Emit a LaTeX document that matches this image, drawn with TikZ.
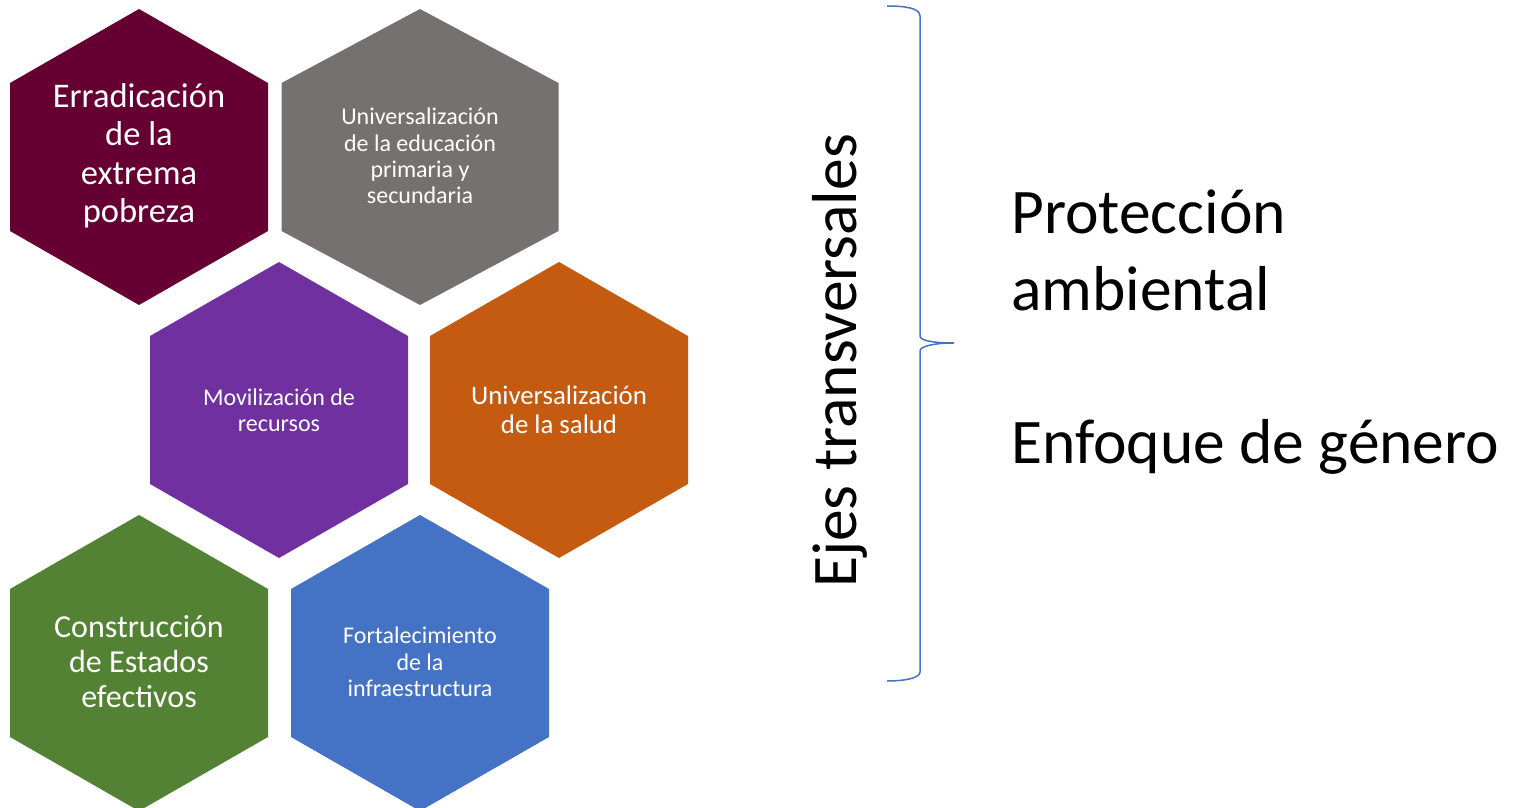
\documentclass[tikz,border=0pt]{standalone}
\usepackage{fontspec}
\setmainfont{Carlito}
\definecolor{cMaroon}{HTML}{660033}
\definecolor{cGray}{HTML}{767171}
\definecolor{cPurple}{HTML}{7030A0}
\definecolor{cOrange}{HTML}{C55A11}
\definecolor{cGreen}{HTML}{548235}
\definecolor{cBlue}{HTML}{4472C4}
\newcommand\hexfill[4]{\fill[#3] (#1,#2) +(0,-148) -- +(#4,-74) -- +(#4,74) -- +(0,148) -- +(-#4,74) -- +(-#4,-74) -- cycle;}
\begin{document}
\begin{tikzpicture}[x=1pt,y=-1pt,
  hexlabel/.style={text=white,align=center,inner sep=0pt},
  big/.style={hexlabel,font=\fontsize{34.5}{38.5}\selectfont},
  mid/.style={hexlabel,font=\fontsize{32}{35}\selectfont},
  med/.style={hexlabel,font=\fontsize{26.8}{29}\selectfont},
  small/.style={hexlabel,font=\fontsize{24}{26.3}\selectfont},
  sidetext/.style={inner sep=0pt,font=\fontsize{63.5}{72}\selectfont}]
\useasboundingbox (0,0) rectangle (1518,808);
\hexfill{139}{157}{cMaroon}{129}
\hexfill{420}{157}{cGray}{138.5}
\hexfill{279}{410}{cPurple}{129}
\hexfill{559}{410}{cOrange}{129}
\hexfill{139}{663}{cGreen}{129}
\hexfill{420}{663}{cBlue}{129}
\node[big] (h1) at (139,156) {Erradicación\\de la\\extrema\\pobreza};
\node[small] (h2) at (420,156) {Universalización\\de la educación\\primaria y\\secundaria};
\node[small] (h3) at (279,410) {Movilización de\\recursos};
\node[med] (h4) at (559,410) {Universalización\\de la salud};
\node[mid] (h5) at (139,662) {Construcción\\de Estados\\efectivos};
\node[small] (h6) at (420,662) {Fortalecimiento\\de la\\infraestructura};
\node[sidetext,rotate=90,anchor=base west] (ejes) at (856,588) {Ejes transversales};
\draw[cBlue,line width=1.5pt] (887,6) .. controls (905,6) and (920,8) .. (920,16) -- (920,336)
  .. controls (920,341) and (935,343) .. (954,343)
  .. controls (935,343) and (920,346) .. (920,351) -- (920,672)
  .. controls (920,678) and (905,681) .. (887,681);
\node[sidetext,anchor=base west] (p1) at (1011,233) {Protección};
\node[sidetext,anchor=base west] (p2) at (1011,310) {ambiental};
\node[sidetext,anchor=base west] (p3) at (1011,463) {Enfoque de género};
\end{tikzpicture}
\end{document}
